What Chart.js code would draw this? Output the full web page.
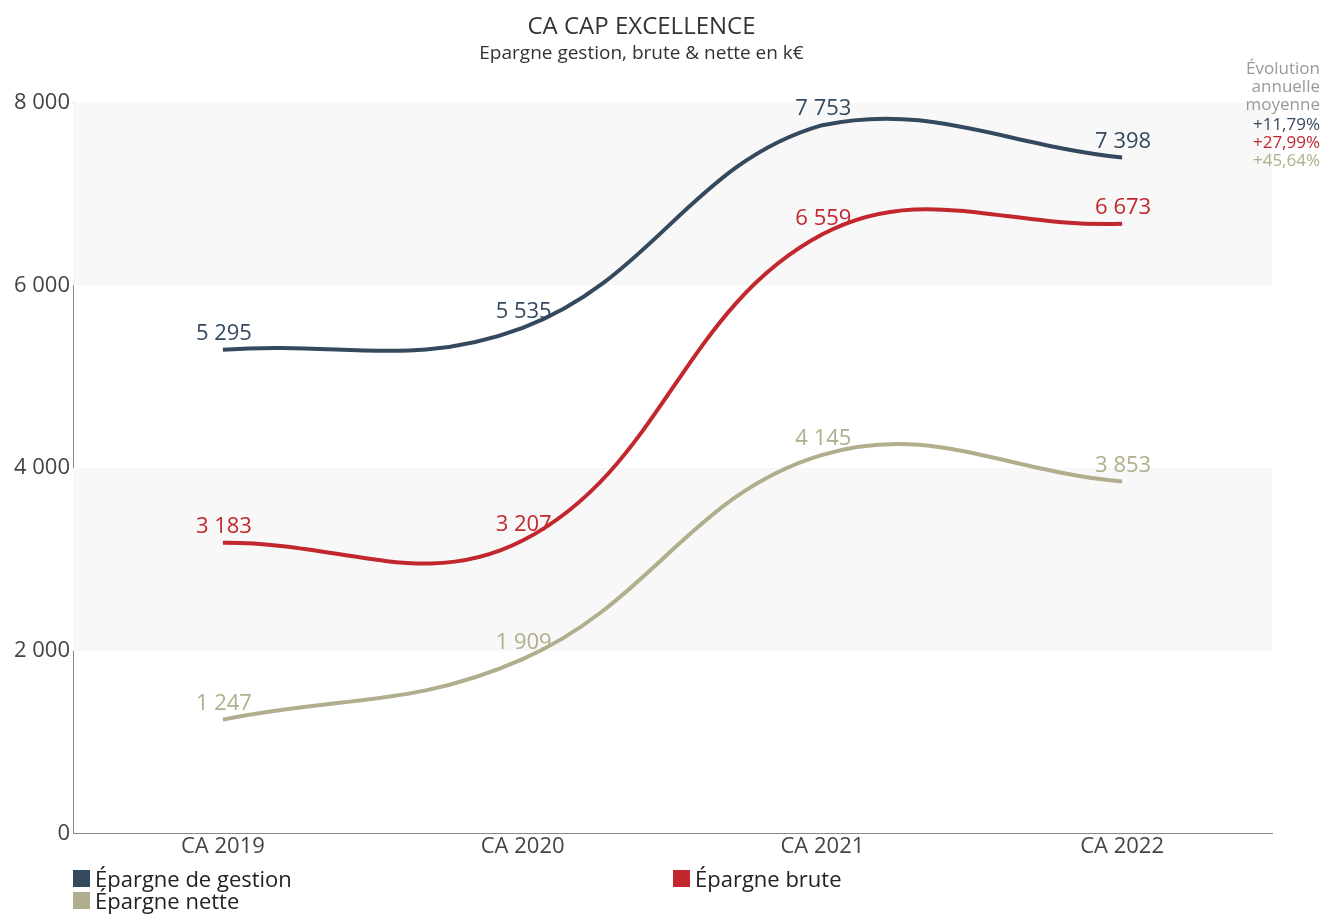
<!DOCTYPE html>
<html>
<head>
<meta charset="utf-8">
<script src="https://cdn.jsdelivr.net/npm/chart.js@4"></script>
<style>
  body { margin: 0; background: #fff; font-family: "Open Sans", sans-serif; }
  #wrap { position: relative; width: 1324px; height: 915px; }
  #legend { position: absolute; left: 73px; top: 867px; width: 1200px; font-size: 22px; color: #222; }
  .item { position: absolute; display: flex; align-items: center; line-height: 22px; white-space: nowrap; }
  .box { width: 17px; height: 17px; margin-right: 5px; }
</style>
</head>
<body>
<div id="wrap">
  <canvas id="myChart" width="1324" height="915"></canvas>
  <div id="legend"></div>
</div>
<script>
const categories = ['CA 2019', 'CA 2020', 'CA 2021', 'CA 2022'];
const gestion = [5295, 5535, 7753, 7398];
const brute = [3183, 3207, 6559, 6673];
const nette = [1247, 1909, 4145, 3853];
const seriesNames = ['Épargne de gestion', 'Épargne brute', 'Épargne nette'];
const evolution = ['+11,79%', '+27,99%', '+45,64%'];
const colors = ['#34495e', '#c1272d', '#b0ae8c'];

const fmt = v => String(v).replace(/\B(?=(\d{3})+(?!\d))/g, ' ');

/* bandes grises en fond */
const bands = {
  id: 'bands',
  beforeDatasetsDraw(chart) {
    const {ctx, chartArea, scales: {y}} = chart;
    ctx.save();
    ctx.fillStyle = '#f8f8f8';
    [[6000, 8000], [2000, 4000]].forEach(([a, b]) => {
      const top = y.getPixelForValue(b), bot = y.getPixelForValue(a);
      ctx.fillRect(chartArea.left, top, chartArea.right - chartArea.left, bot - top);
    });
    ctx.restore();
  }
};

/* etiquettes de valeurs + note a droite */
const labels = {
  id: 'labels',
  afterDatasetsDraw(chart) {
    const ctx = chart.ctx;
    ctx.save();
    ctx.font = '22px "Open Sans"';
    ctx.textAlign = 'center';
    ctx.textBaseline = 'bottom';
    chart.data.datasets.forEach((ds, i) => {
      chart.getDatasetMeta(i).data.forEach((pt, j) => {
        ctx.fillStyle = ds.borderColor;
        ctx.fillText(fmt(ds.data[j]), pt.x + 1, pt.y - 5);
      });
    });
    ctx.font = '17px "Open Sans"';
    ctx.textAlign = 'right';
    ctx.textBaseline = 'middle';
    ctx.fillStyle = '#999';
    ['Évolution', 'annuelle', 'moyenne'].forEach((t, k) => ctx.fillText(t, 1320, 69 + k * 18));
    evolution.forEach((t, k) => {
      ctx.fillStyle = colors[k];
      ctx.fillText(t, 1320, 125 + k * 18);
    });
    ctx.restore();
  }
};

const ctx = document.getElementById('myChart');
const chart = new Chart(ctx, {
  type: 'line',
  data: {
    labels: categories,
    datasets: [gestion, brute, nette].map((d, i) => ({
      label: seriesNames[i],
      data: d,
      borderColor: colors[i],
      backgroundColor: colors[i],
      borderWidth: 4,
      pointRadius: 0,
      tension: 0.4,
      fill: false
    }))
  },
  options: {
    responsive: false,
    animation: false,
    layout: { padding: { left: 11, right: 52, top: 4, bottom: 55 } },
    plugins: {
      legend: { display: false },
      tooltip: { enabled: false },
      title: {
        display: true,
        text: 'CA CAP EXCELLENCE',
        color: '#333',
        font: { family: 'Open Sans', size: 24, weight: 'normal' },
        padding: { top: 9, bottom: 0 }
      },
      subtitle: {
        display: true,
        text: 'Epargne gestion, brute & nette en k€',
        color: '#333',
        font: { family: 'Open Sans', size: 19 },
        padding: { top: 0, bottom: 38 }
      }
    },
    scales: {
      x: {
        offset: true,
        grid: { display: true, drawOnChartArea: false, drawTicks: false },
        border: { display: true, color: '#888', width: 1 },
        ticks: { color: '#444', font: { family: 'Open Sans', size: 22 }, padding: 0 }
      },
      y: {
        min: 0,
        max: 8000,
        grid: { display: true, drawOnChartArea: false, drawTicks: false },
        border: { display: true, color: '#888', width: 1 },
        ticks: {
          stepSize: 2000,
          color: '#444',
          padding: 3,
          font: { family: 'Open Sans', size: 22 },
          callback: v => fmt(v)
        }
      }
    }
  },
  plugins: [bands, labels]
});

/* legende en HTML */
const legend = document.getElementById('legend');
const pos = [[0, 0], [600, 0], [0, 22]];
seriesNames.forEach((n, i) => {
  const it = document.createElement('div');
  it.className = 'item';
  it.style.left = pos[i][0] + 'px';
  it.style.top = pos[i][1] + 'px';
  it.innerHTML = '<span class="box" style="background:' + colors[i] + '"></span>' + n;
  legend.appendChild(it);
});
</script>
</body>
</html>
